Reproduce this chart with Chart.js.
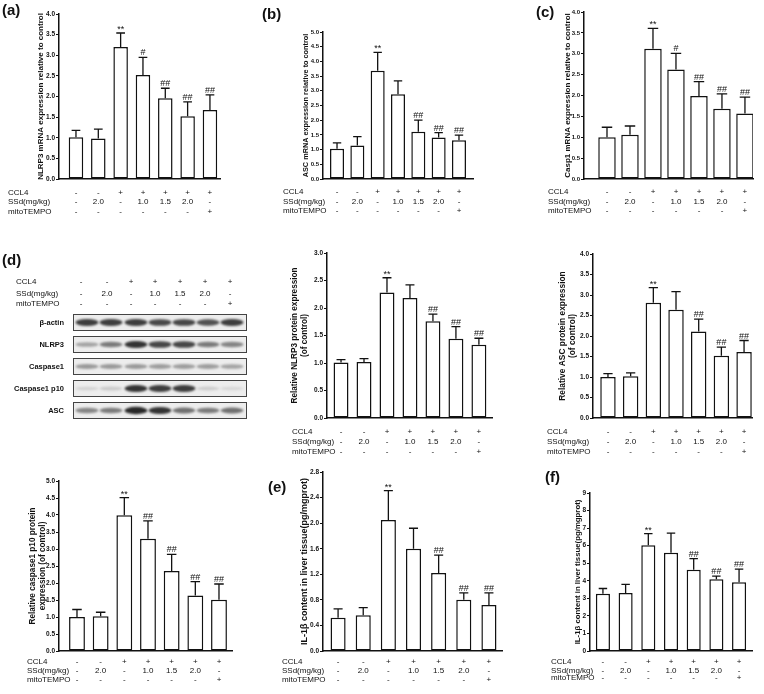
<!DOCTYPE html>
<html>
<head>
<meta charset="utf-8">
<script src="https://cdn.jsdelivr.net/npm/chart.js@4.4.1/dist/chart.umd.min.js"></script>
<style>
  html,body{margin:0;padding:0;background:#fff;}
  #wrap{position:relative;width:764px;height:694px;background:#fff;overflow:hidden;}
  .lbl{position:absolute;font:bold 15px 'Liberation Sans',Arial,sans-serif;line-height:1;color:#111;}
  canvas{position:absolute;}
</style>
</head>
<body>
<div id="wrap"></div>
<script>
// ---------- data ----------
const groups = ['Control','SSd 2.0','CCL4','CCL4+SSd 1.0','CCL4+SSd 1.5','CCL4+SSd 2.0','CCL4+mitoTEMPO'];
const rowLabels = ['CCL4','SSd(mg/kg)','mitoTEMPO'];
const ccl4Row = ['-','-','+','+','+','+','+'];
const ssdRow  = ['-','2.0','-','1.0','1.5','2.0','-'];
const mitoRow = ['-','-','-','-','-','-','+'];

// (a) NLRP3 mRNA
const nlrp3Mrna   = [1.01,0.98,3.20,2.52,1.96,1.52,1.67];
const nlrp3MrnaSd = [0.17,0.23,0.34,0.43,0.24,0.35,0.37];
const nlrp3MrnaSig = ['','','**','#','##','##','##'];
// (b) ASC mRNA
const ascMrna   = [1.03,1.14,3.68,2.88,1.61,1.41,1.32];
const ascMrnaSd = [0.20,0.30,0.63,0.46,0.39,0.17,0.17];
const ascMrnaSig = ['','','**','','##','##','##'];
// (c) Casp1 mRNA
const casp1Mrna   = [1.00,1.06,3.12,2.62,1.99,1.68,1.57];
const casp1MrnaSd = [0.24,0.21,0.49,0.39,0.34,0.36,0.39];
const casp1MrnaSig = ['','','**','#','##','##','##'];
// (d) NLRP3 protein
const nlrp3Prot   = [1.01,1.02,2.28,2.18,1.76,1.44,1.33];
const nlrp3ProtSd = [0.05,0.06,0.27,0.24,0.13,0.22,0.12];
const nlrp3ProtSig = ['','','**','','##','##','##'];
// (d) ASC protein
const ascProt   = [1.00,1.02,2.81,2.64,2.11,1.52,1.61];
const ascProtSd = [0.08,0.08,0.37,0.44,0.30,0.21,0.28];
const ascProtSig = ['','','**','','##','##','##'];
// (d) caspase1 p10 protein
const p10Prot   = [1.00,1.02,3.99,3.30,2.35,1.63,1.51];
const p10ProtSd = [0.22,0.12,0.52,0.53,0.49,0.41,0.46];
const p10ProtSig = ['','','**','##','##','##','##'];
// (e) IL-1β pg/mgprot
const il1bE   = [0.52,0.56,2.05,1.60,1.22,0.80,0.72];
const il1bESd = [0.14,0.12,0.46,0.32,0.28,0.11,0.19];
const il1bESig = ['','','**','','##','##','##'];
// (f) IL-1β
const il1bF   = [3.26,3.30,6.02,5.60,4.63,4.09,3.92];
const il1bFSd = [0.30,0.49,0.67,1.12,0.63,0.17,0.74];
const il1bFSig = ['','','**','','##','##','##'];

// western blot band darkness (0..1), lanes per row
const blotRows = ['β-actin','NLRP3','Caspase1','Caspase1 p10','ASC'];
const blotActin = [0.85,0.85,0.85,0.80,0.80,0.75,0.85];
const blotNlrp3 = [0.35,0.55,0.90,0.80,0.80,0.55,0.50];
const blotCasp1 = [0.40,0.40,0.40,0.38,0.38,0.38,0.35];
const blotP10   = [0.12,0.16,0.90,0.85,0.85,0.15,0.10];
const blotAsc   = [0.50,0.55,0.95,0.90,0.60,0.55,0.60];

// ---------- drawing ----------
const FAM = "'Liberation Sans', Arial, sans-serif";
const wrap = document.getElementById('wrap');
const treat = [ccl4Row, ssdRow, mitoRow];

function letter(t, x, y){
  const d = document.createElement('div'); d.className='lbl'; d.textContent=t;
  d.style.left=x+'px'; d.style.top=y+'px'; wrap.appendChild(d);
}

function makePanel(c){
  const cv = document.createElement('canvas');
  cv.width=c.box[2]; cv.height=c.box[3];
  cv.style.left=c.box[0]+'px'; cv.style.top=c.box[1]+'px';
  wrap.appendChild(cv);
  const L=c.area[0]-c.box[0], T=c.area[1]-c.box[1], R=c.area[2]-c.box[0], B=c.area[3]-c.box[1];
  const lh=c.titleSize*1.2;
  const padLeft=c.titleX-c.box[0]-lh/2;
  const overlay={
    id:'overlay',
    afterDatasetsDraw(chart){
      const ctx=chart.ctx, y=chart.scales.y, x=chart.scales.x;
      const meta=chart.getDatasetMeta(0);
      ctx.save();
      ctx.strokeStyle='#111'; ctx.lineWidth=1.3; ctx.fillStyle='#111';
      ctx.font='9px '+FAM; ctx.textAlign='center'; ctx.textBaseline='alphabetic';
      meta.data.forEach((bar,i)=>{
        const cx=bar.x, top=bar.y, e=y.getPixelForValue(c.mean[i]+c.sd[i]);
        const hw=bar.width*0.3;
        ctx.beginPath(); ctx.moveTo(cx,top); ctx.lineTo(cx,e);
        ctx.moveTo(cx-hw,e); ctx.lineTo(cx+hw,e); ctx.stroke();
        if(c.sig[i]){ ctx.fillText(c.sig[i], cx, e-(c.sig[i]==='**'?1:2)); }
      });
      // treatment table
      ctx.font='8px '+FAM; ctx.textBaseline='middle';
      rowLabels.forEach((lab,r)=>{
        const ry=c.rows[r]-c.box[1];
        ctx.textAlign='left'; ctx.fillText(lab, c.labelX-c.box[0], ry);
        ctx.textAlign='center';
        treat[r].forEach((v,i)=>ctx.fillText(v, x.getPixelForValue(i), ry));
      });
      ctx.restore();
    }
  };
  new Chart(cv,{
    type:'bar',
    data:{datasets:[{
      data:c.mean.map((v,i)=>({x:i,y:v})),
      backgroundColor:'#fff', borderColor:'#111', borderWidth:1.5, borderSkipped:false,
      barPercentage:c.barPct, categoryPercentage:1
    }]},
    options:{
      responsive:false, animation:false, devicePixelRatio:1,
      layout:{padding:{left:padLeft, top:T, right:c.box[2]-R, bottom:0}},
      plugins:{legend:{display:false}, tooltip:{enabled:false}},
      scales:{
        x:{type:'linear', min:c.xr[0], max:c.xr[1], offset:false,
           ticks:{display:false}, grid:{display:false, drawTicks:false},
           border:{display:true,color:'#111',width:1.5},
           afterFit(s){ s.height=c.box[3]-B; }},
        y:{min:0, max:c.ymax,
           ticks:{stepSize:c.step, color:'#111', padding:1, font:{family:FAM,size:c.tickSize||6.5,weight:'bold'},
                  callback:v=>v.toFixed(c.dec)},
           grid:{drawOnChartArea:false, drawTicks:true, tickLength:3, color:'#111', tickWidth:1},
           border:{color:'#111', width:1.5},
           title:{display:true, text:c.title, color:'#111', padding:0,
                  font:{family:FAM, size:c.titleSize, weight:'bold', lineHeight:1.2}},
           afterFit(s){ s.width=L-padLeft; }}
      }
    },
    plugins:[overlay]
  });
}

const panels=[
  {box:[0,0,255,225], area:[59,14,220,179], xr:[-0.76,6.45], barPct:0.65, ymax:4, step:0.5, dec:1,
   title:'NLRP3 mRNA expression relative to control', titleSize:8, titleX:41, labelX:8, rows:[193,202,212],
   mean:nlrp3Mrna, sd:nlrp3MrnaSd, sig:nlrp3MrnaSig},
  {box:[255,0,255,225], area:[323,32,473,179], xr:[-0.69,6.69], barPct:0.69, ymax:5, step:0.5, dec:1,
   title:'ASC mRNA expression relative to control', titleSize:7.3, titleX:306, labelX:283, rows:[192,202,211],
   mean:ascMrna, sd:ascMrnaSd, sig:ascMrnaSig, tickSize:6},
  {box:[510,0,254,225], area:[584,12,753,179], xr:[-1.0,6.35], barPct:0.76, ymax:4, step:0.5, dec:1,
   title:'Casp1 mRNA expression relative to control', titleSize:8, titleX:568, labelX:548, rows:[192,202,211],
   mean:casp1Mrna, sd:casp1MrnaSd, sig:casp1MrnaSig, tickSize:6},
  {box:[260,225,250,235], area:[327,253,492,418], xr:[-0.61,6.57], barPct:0.65, ymax:3, step:0.5, dec:1,
   title:['Relative NLRP3 protein expression','(of control)'], titleSize:8.2, titleX:295, labelX:292, rows:[432,442,452],
   mean:nlrp3Prot, sd:nlrp3ProtSd, sig:nlrp3ProtSig},
  {box:[510,225,254,235], area:[593,254,752,418], xr:[-0.66,6.35], barPct:0.68, ymax:4, step:0.5, dec:1,
   title:['Relative ASC protein expression','(of control)'], titleSize:8.4, titleX:563, labelX:547, rows:[432,442,452],
   mean:ascProt, sd:ascProtSd, sig:ascProtSig},
  {box:[0,460,255,234], area:[59,481,232,651], xr:[-0.76,6.55], barPct:0.67, ymax:5, step:0.5, dec:1,
   title:['Relative caspase1 p10 protein','expression (of control)'], titleSize:8.2, titleX:33, labelX:27, rows:[662,671,680],
   mean:p10Prot, sd:p10ProtSd, sig:p10ProtSig},
  {box:[255,460,255,234], area:[323,472,502,651], xr:[-0.6,6.52], barPct:0.6, ymax:2.8, step:0.4, dec:1,
   title:'IL-1β content in liver tissue(pg/mgprot)', titleSize:9, titleX:305, labelX:282, rows:[662,671,680],
   mean:il1bE, sd:il1bESd, sig:il1bESig},
  {box:[510,460,254,234], area:[590,493,752,651], xr:[-0.57,6.57], barPct:0.62, ymax:9, step:1, dec:0,
   title:'IL-1β content in liver tissue(pg/mgprot)', titleSize:7.8, titleX:578, labelX:551, rows:[662,671,678],
   mean:il1bF, sd:il1bFSd, sig:il1bFSig}
];
panels.forEach(makePanel);

// ---------- western blot (d) ----------
(function(){
  const bx=0, by=225, W=260, H=235;
  const cv=document.createElement('canvas'); cv.width=W; cv.height=H;
  cv.style.left=bx+'px'; cv.style.top=by+'px'; wrap.appendChild(cv);
  const ctx=cv.getContext('2d');
  const colX=[81,107,131,155,180,205,230];
  const hdrY=[282,294,304];
  ctx.fillStyle='#111'; ctx.font='8px '+FAM; ctx.textBaseline='middle';
  rowLabels.forEach((lab,r)=>{
    ctx.textAlign='left'; ctx.fillText(lab,16-bx,hdrY[r]-by);
    ctx.textAlign='center';
    treat[r].forEach((v,i)=>ctx.fillText(v,colX[i]-bx,hdrY[r]-by));
  });
  const rowsData=[blotActin,blotNlrp3,blotCasp1,blotP10,blotAsc];
  const boxTop=[314,336,358,380,402];
  const laneX=[87,111,136,160,184,208,232];
  rowsData.forEach((arr,r)=>{
    const top=boxTop[r]-by, h=17, left=73-bx, w=174;
    ctx.fillStyle='#ededed'; ctx.fillRect(left,top,w,h);
    ctx.save();
    ctx.beginPath(); ctx.rect(left,top,w,h); ctx.clip();
    ctx.filter='blur(1.2px)';
    arr.forEach((d,i)=>{
      const g=Math.round(235-d*205);
      ctx.fillStyle=`rgb(${g},${g},${g})`;
      ctx.beginPath();
      ctx.ellipse(laneX[i]-bx, top+h/2, 11.5, 1.6+d*2.2, 0, 0, Math.PI*2);
      ctx.fill();
    });
    ctx.restore();
    ctx.strokeStyle='#444'; ctx.lineWidth=1; ctx.strokeRect(left+0.5,top+0.5,w-1,h-1);
    ctx.fillStyle='#111'; ctx.font='bold 7.5px '+FAM; ctx.textAlign='right'; ctx.textBaseline='middle';
    ctx.fillText(blotRows[r], 64-bx, top+h/2);
  });
})();

letter('(a)',2,2); letter('(b)',262,6); letter('(c)',536,4);
letter('(d)',2,252); letter('(e)',268,479); letter('(f)',545,469);
</script>
</body>
</html>
